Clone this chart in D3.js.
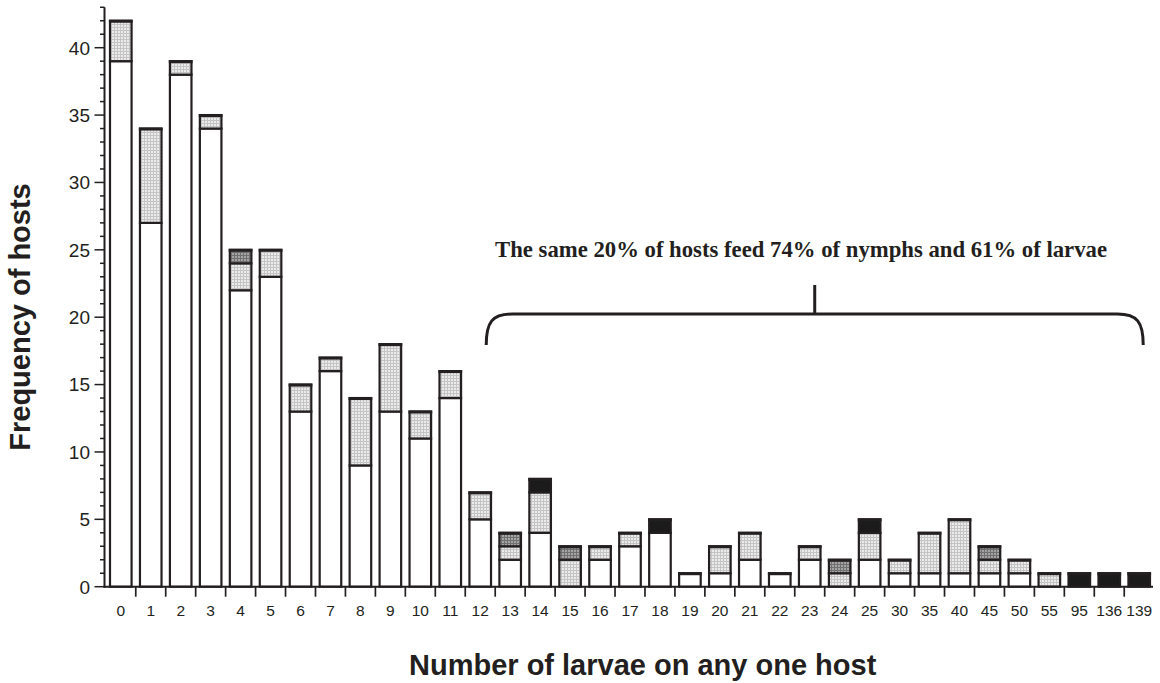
<!DOCTYPE html>
<html>
<head>
<meta charset="utf-8">
<script src="https://cdn.jsdelivr.net/npm/d3@7"></script>
<style>
  html, body { margin: 0; padding: 0; background: #fff; }
  svg { display: block; }
</style>
</head>
<body>
<svg id="chart" width="1160" height="683"></svg>
<script>
// Number of larvae per host (x categories)
const categories = ["0","1","2","3","4","5","6","7","8","9","10","11","12","13","14","15","16","17","18","19","20","21","22","23","24","25","30","35","40","45","50","55","95","136","139"];

// Host counts per stack segment, bottom to top
const seriesOpen       = [39,27,38,34,22,23,13,16,9,13,11,14,5,2,4,0,2,3,4,1,1,2,1,2,0,2,1,1,1,1,1,0,0,0,0];
const seriesLightDots  = [3,7,1,1,2,2,2,1,5,5,2,2,2,1,3,2,1,1,0,0,2,2,0,1,1,2,1,3,4,1,1,1,0,0,0];
const seriesDarkDots   = [0,0,0,0,1,0,0,0,0,0,0,0,0,1,0,1,0,0,0,0,0,0,0,0,1,0,0,0,0,1,0,0,0,0,0];
const seriesSolid      = [0,0,0,0,0,0,0,0,0,0,0,0,0,0,1,0,0,0,1,0,0,0,0,0,0,1,0,0,0,0,0,0,1,1,1];

const yMajorTicks = [0,5,10,15,20,25,30,35,40];
const yTitle = "Frequency of hosts";
const xTitle = "Number of larvae on any one host";
const note = "The same 20% of hosts feed 74% of nymphs and 61% of larvae";

const keys = ["open","light","dark","solid"];
const rows = categories.map((c, i) => ({
  cat: c,
  open: seriesOpen[i],
  light: seriesLightDots[i],
  dark: seriesDarkDots[i],
  solid: seriesSolid[i]
}));

const svg = d3.select("#chart");
const defs = svg.append("defs");

function dotPattern(id, base, line) {
  const p = defs.append("pattern")
    .attr("id", id).attr("width", 3).attr("height", 3)
    .attr("patternUnits", "userSpaceOnUse");
  p.append("rect").attr("width", 3).attr("height", 3).attr("fill", base);
  p.append("rect").attr("width", 1).attr("height", 3).attr("fill", line);
  p.append("rect").attr("width", 3).attr("height", 1).attr("fill", line);
}
dotPattern("lightDots", "#ebebeb", "#c4c4c4");
dotPattern("darkDots", "#a4a4a4", "#707070");

const fills = {
  open: "#ffffff",
  light: "url(#lightDots)",
  dark: "url(#darkDots)",
  solid: "#1b1b1b"
};

const axisX = 104.5;
const baseY = 586.7;

const x = d3.scaleBand()
  .domain(categories)
  .range([110, 1150])
  .paddingInner(0.28)
  .paddingOuter(0);

const y = d3.scaleLinear()
  .domain([0, 43])
  .range([baseY, baseY - 43 * 13.475]);

const stack = d3.stack().keys(keys);
const layers = stack(rows);

const ink = "#231f20";

// Stacked segments
const g = svg.append("g");
layers.forEach(layer => {
  g.selectAll(null)
    .data(layer.filter(d => d[1] - d[0] > 0))
    .join("rect")
    .attr("x", d => x(d.data.cat))
    .attr("width", x.bandwidth())
    .attr("y", d => y(d[1]))
    .attr("height", d => y(d[0]) - y(d[1]))
    .attr("fill", fills[layer.key])
    .attr("stroke", ink)
    .attr("stroke-width", 2.2);
});

// Heavier top edge on each stack
g.selectAll(null)
  .data(rows)
  .join("line")
  .attr("x1", d => x(d.cat) - 1.1)
  .attr("x2", d => x(d.cat) + x.bandwidth() + 1.1)
  .attr("y1", d => y(d.open + d.light + d.dark + d.solid) + 0.5)
  .attr("y2", d => y(d.open + d.light + d.dark + d.solid) + 0.5)
  .attr("stroke", ink)
  .attr("stroke-width", 3);

// Y axis
const yAxis = svg.append("g");
yAxis.append("line")
  .attr("x1", axisX).attr("x2", axisX)
  .attr("y1", y(43)).attr("y2", baseY + 1)
  .attr("stroke", ink).attr("stroke-width", 2);
yAxis.selectAll(null)
  .data(d3.range(0, 44))
  .join("line")
  .attr("x1", d => yMajorTicks.includes(d) ? axisX - 10 : axisX - 4.5)
  .attr("x2", axisX)
  .attr("y1", d => y(d)).attr("y2", d => y(d))
  .attr("stroke", ink).attr("stroke-width", 1.5);
yAxis.selectAll(null)
  .data(yMajorTicks)
  .join("text")
  .attr("x", 90)
  .attr("y", d => y(d))
  .attr("dy", "0.36em")
  .attr("text-anchor", "end")
  .attr("font-family", "'Liberation Sans', Arial, sans-serif")
  .attr("font-size", 19)
  .attr("fill", ink)
  .text(d => d);

// X axis
const xAxis = svg.append("g");
xAxis.append("line")
  .attr("x1", axisX - 1).attr("x2", 1153)
  .attr("y1", baseY).attr("y2", baseY)
  .attr("stroke", ink).attr("stroke-width", 2);
const gap = x.step() - x.bandwidth();
xAxis.selectAll(null)
  .data(categories.slice(0, -1))
  .join("line")
  .attr("x1", d => x(d) + x.bandwidth() + gap / 2)
  .attr("x2", d => x(d) + x.bandwidth() + gap / 2)
  .attr("y1", baseY).attr("y2", baseY + 10)
  .attr("stroke", ink).attr("stroke-width", 1.7);
xAxis.selectAll(null)
  .data(categories)
  .join("text")
  .attr("x", d => x(d) + x.bandwidth() / 2)
  .attr("y", 615.5)
  .attr("text-anchor", "middle")
  .attr("font-family", "'Liberation Sans', Arial, sans-serif")
  .attr("font-size", 15.5)
  .attr("fill", ink)
  .text(d => d);

// Axis titles
svg.append("text")
  .attr("transform", "translate(30,317) rotate(-90)")
  .attr("text-anchor", "middle")
  .attr("font-family", "'Liberation Sans', Arial, sans-serif")
  .attr("font-weight", "bold")
  .attr("font-size", 29)
  .attr("fill", ink)
  .text(yTitle);

svg.append("text")
  .attr("x", 409)
  .attr("y", 675)
  .attr("text-anchor", "start")
  .attr("font-family", "'Liberation Sans', Arial, sans-serif")
  .attr("font-weight", "bold")
  .attr("font-size", 29)
  .attr("fill", ink)
  .text(xTitle);

// Brace spanning the heavily infested hosts
const braceL = x("12") + x.bandwidth() / 2 + 6;
const braceR = x("139") + x.bandwidth() / 2 + 4;
const braceY = 314, braceEnd = 345, r = 26;
const braceMid = (braceL + braceR) / 2;
const brace = d3.path();
brace.moveTo(braceL, braceEnd);
brace.bezierCurveTo(braceL, braceY + 8, braceL + 6, braceY, braceL + r, braceY);
brace.lineTo(braceR - r, braceY);
brace.bezierCurveTo(braceR - 6, braceY, braceR, braceY + 8, braceR, braceEnd);
brace.moveTo(braceMid, braceY);
brace.lineTo(braceMid, 285);
svg.append("path")
  .attr("d", brace.toString())
  .attr("fill", "none")
  .attr("stroke", ink)
  .attr("stroke-width", 3);

svg.append("text")
  .attr("x", 801)
  .attr("y", 257)
  .attr("text-anchor", "middle")
  .attr("font-family", "'Liberation Serif', 'Times New Roman', serif")
  .attr("font-weight", "bold")
  .attr("font-size", 22.5)
  .attr("textLength", 612)
  .attr("lengthAdjust", "spacingAndGlyphs")
  .attr("fill", ink)
  .text(note);
</script>
</body>
</html>
